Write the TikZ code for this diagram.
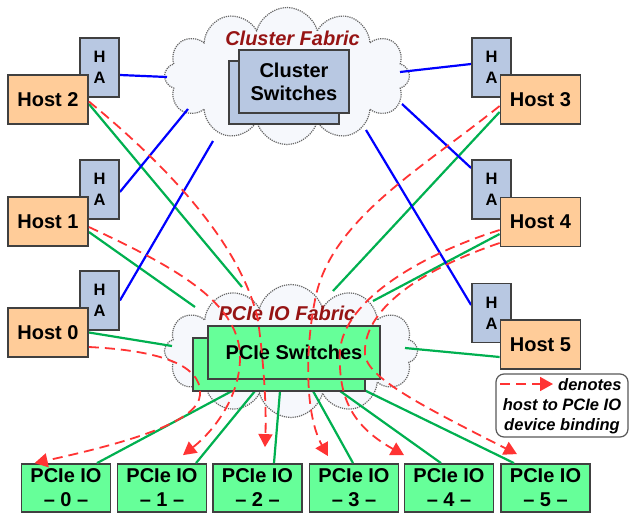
\documentclass[tikz,border=0pt]{standalone}
\usepackage{fontspec}
\setmainfont{Liberation Sans}
\usetikzlibrary{shapes.symbols,arrows.meta}
\definecolor{hostfill}{HTML}{FFCC99}
\definecolor{hafill}{HTML}{B8C8E2}
\definecolor{pcifill}{HTML}{66FF99}
\definecolor{bord}{HTML}{404040}
\definecolor{gline}{HTML}{00B050}
\definecolor{bline}{HTML}{0000FF}
\definecolor{rline}{HTML}{FF3333}
\definecolor{fabtext}{HTML}{961414}
\definecolor{cloudfill}{HTML}{F6F8FC}
\tikzset{
  boxbase/.style={draw=bord, line width=1.8pt, inner sep=0pt, align=center},
  host/.style={boxbase, fill=hostfill, minimum width=80pt, minimum height=49pt, font=\fontsize{20}{22}\selectfont\bfseries},
  habox/.style={boxbase, fill=hafill, minimum width=39pt, minimum height=59pt, font=\fontsize{16.5}{21}\selectfont\bfseries},
  iobox/.style={boxbase, fill=pcifill, minimum width=89pt, minimum height=48pt, font=\fontsize{20}{24}\selectfont\bfseries},
  cswitch/.style={boxbase, fill=hafill, minimum width=110pt, minimum height=63pt, font=\fontsize{20}{23}\selectfont\bfseries},
  pswitch/.style={boxbase, fill=pcifill, minimum width=172pt, minimum height=53pt, font=\fontsize{20}{23}\selectfont\bfseries},
  fabric/.style={cloud, cloud puffs=12, cloud ignores aspect, draw=black!60, densely dotted, line width=1.2pt, fill=cloudfill, inner sep=0pt},
  fabtitle/.style={text=fabtext, font=\fontsize{20}{22}\selectfont\bfseries\itshape},
  glink/.style={gline, line width=2.2pt},
  blink/.style={bline, line width=2.2pt},
  rlink/.style={rline, line width=1.8pt, dash pattern=on 10pt off 6pt, -{Triangle[length=13pt,width=14pt]}},
  legtext/.style={font=\fontsize{16.5}{20}\selectfont\bfseries\itshape},
}
\begin{document}
\begin{tikzpicture}[x=1pt,y=-1pt]
\fill[white] (0,0) rectangle (629,514);
\useasboundingbox (0,0) rectangle (629,514);

% clouds
\node[fabric, minimum width=245pt, minimum height=137pt] (cf) at (287,76) {};
\node[fabric, minimum width=253pt, minimum height=133pt] (pf) at (291,351) {};

% coordinates on clouds / switches
\coordinate (cb2) at (167,77);
\coordinate (cb1) at (188,109);
\coordinate (cb0) at (213,141);
\coordinate (cb3) at (400,72);
\coordinate (cb4) at (402,104);
\coordinate (cb5) at (366,130);
\coordinate (pg2) at (242,287);
\coordinate (pg1) at (195,307);
\coordinate (pg0) at (172,346);
\coordinate (pg3) at (333,291);
\coordinate (pg4) at (373,301);
\coordinate (pg5) at (405,348);
\coordinate (po0) at (232,391);
\coordinate (po1) at (255,391);
\coordinate (po2) at (280,391);
\coordinate (po3) at (313,391);
\coordinate (po4) at (340,391);
\coordinate (po5) at (364,390);

% hosts and adapters (nodes)
\node[habox] (ha2) at (99.5,67.5) {H\\A};
\node[habox] (ha1) at (99.5,189.5) {H\\A};
\node[habox] (ha0) at (99.5,300.5) {H\\A};
\node[habox] (ha3) at (491.5,67.5) {H\\A};
\node[habox] (ha4) at (491.5,189.5) {H\\A};
\node[habox] (ha5) at (491.5,313) {H\\A};
\node[host] (h2) at (48,99.5) {Host 2};
\node[host] (h1) at (48,221.5) {Host 1};
\node[host] (h0) at (48,332.5) {Host 0};
\node[host] (h3) at (540.5,99.5) {Host 3};
\node[host] (h4) at (540.5,222) {Host 4};
\node[host] (h5) at (540.5,344.5) {Host 5};

% IO devices
\node[iobox] (io0) at (66,488) {PCIe IO\\\textendash\ 0 \textendash};
\node[iobox] (io1) at (162,488) {PCIe IO\\\textendash\ 1 \textendash};
\node[iobox] (io2) at (257.5,488) {PCIe IO\\\textendash\ 2 \textendash};
\node[iobox] (io3) at (354,488) {PCIe IO\\\textendash\ 3 \textendash};
\node[iobox] (io4) at (449,488) {PCIe IO\\\textendash\ 4 \textendash};
\node[iobox] (io5) at (545.5,488) {PCIe IO\\\textendash\ 5 \textendash};

% green links
\draw[glink] ([yshift=-4.5pt]h2.east) -- (pg2);
\draw[glink] ([yshift=-10.5pt]h1.east) -- (pg1);
\draw[glink] (h0.east) -- (pg0);
\draw[glink] ([yshift=-12.5pt]h3.west) -- (pg3);
\draw[glink] ([yshift=-12pt]h4.west) -- (pg4);
\draw[glink] ([yshift=-12.5pt]h5.west) -- (pg5);
\draw[glink] (po0) -- ([xshift=31pt]io0.north);
\draw[glink] (po1) -- ([xshift=34pt]io1.north);
\draw[glink] (po2) -- ([xshift=16.5pt]io2.north);
\draw[glink] (po3) -- ([xshift=-1pt]io3.north);
\draw[glink] (po4) -- ([xshift=-8pt]io4.north);
\draw[glink] (po5) -- ([xshift=-31.5pt]io5.north);

% blue links
\draw[blink] ([yshift=-7.5pt]ha2.east) -- (cb2);
\draw[blink] ([yshift=-2.5pt]ha1.east) -- (cb1);
\draw[blink] (ha0.east) -- (cb0);
\draw[blink] ([yshift=3.5pt]ha3.west) -- (cb3);
\draw[blink] ([yshift=21.5pt]ha4.west) -- (cb4);
\draw[blink] ([yshift=8pt]ha5.west) -- (cb5);

% redraw adapters and hosts on top of links
\node[habox] at (ha2) {H\\A};
\node[habox] at (ha1) {H\\A};
\node[habox] at (ha0) {H\\A};
\node[habox] at (ha3) {H\\A};
\node[habox] at (ha4) {H\\A};
\node[habox] at (ha5) {H\\A};
\node[host] at (h2) {Host 2};
\node[host] at (h1) {Host 1};
\node[host] at (h0) {Host 0};
\node[host] at (h3) {Host 3};
\node[host] at (h4) {Host 4};
\node[host] at (h5) {Host 5};

% switches
\node[cswitch] (csb) at (284,92.5) {};
\node[cswitch] (cs) at (294,81.5) {Cluster\\Switches};
\node[pswitch] (psb) at (279,364.5) {};
\node[pswitch] (ps) at (294,352.5) {PCIe Switches};

% fabric titles
\node[fabtitle] (cft) at (292.5,38) {Cluster Fabric};
\node[fabtitle] (pft) at (287,313) {PCIe IO Fabric};

% bindings
\draw[rlink] ([yshift=-14.5pt]h0.east) .. controls (150,350) and (203,362) .. (200,395)
   .. controls (198,420) and (140,440) .. ([xshift=14pt]io0.north west);
\draw[rlink] ([yshift=-5.5pt]h1.east) .. controls (170,265) and (238,300) .. (240,355)
   .. controls (241,395) and (215,430) .. ([yshift=8pt,xshift=21pt]io1.north);
\draw[rlink] ([yshift=-2pt]h2.east) .. controls (160,160) and (240,240) .. (258,320)
   .. controls (266,380) and (266,420) .. ([yshift=16pt,xshift=7.5pt]io2.north);
\draw[rlink] ([yshift=-6.5pt]h3.west) .. controls (420,170) and (330,220) .. (315,300)
   .. controls (305,350) and (305,415) .. ([yshift=7pt,xshift=-26pt]io3.north);
\draw[rlink] ([yshift=-8pt]h4.west) .. controls (420,255) and (345,300) .. (340,350)
   .. controls (338,395) and (350,425) .. ([yshift=8pt,xshift=-45pt]io4.north);
\draw[rlink] ([yshift=-21pt]h4.west) .. controls (420,270) and (362,310) .. (365,355)
   .. controls (368,378) and (420,405) .. ([yshift=9pt,xshift=-28.5pt]io5.north);

% legend
\node[draw=black!65, line width=1.2pt, rounded corners=8pt, fill=white, minimum width=132pt, minimum height=63pt] (leg) at (562,405.5) {};
\coordinate (la) at (500,384);
\coordinate (lb) at (553,384);
\draw[rlink] (la) -- (lb);
\node[legtext, anchor=east] (ld) at (625,385) {denotes};
\node[legtext] (lh) at (562,405) {host to PCIe IO};
\node[legtext] (lbd) at (562,426) {device binding};
\end{tikzpicture}
\end{document}
